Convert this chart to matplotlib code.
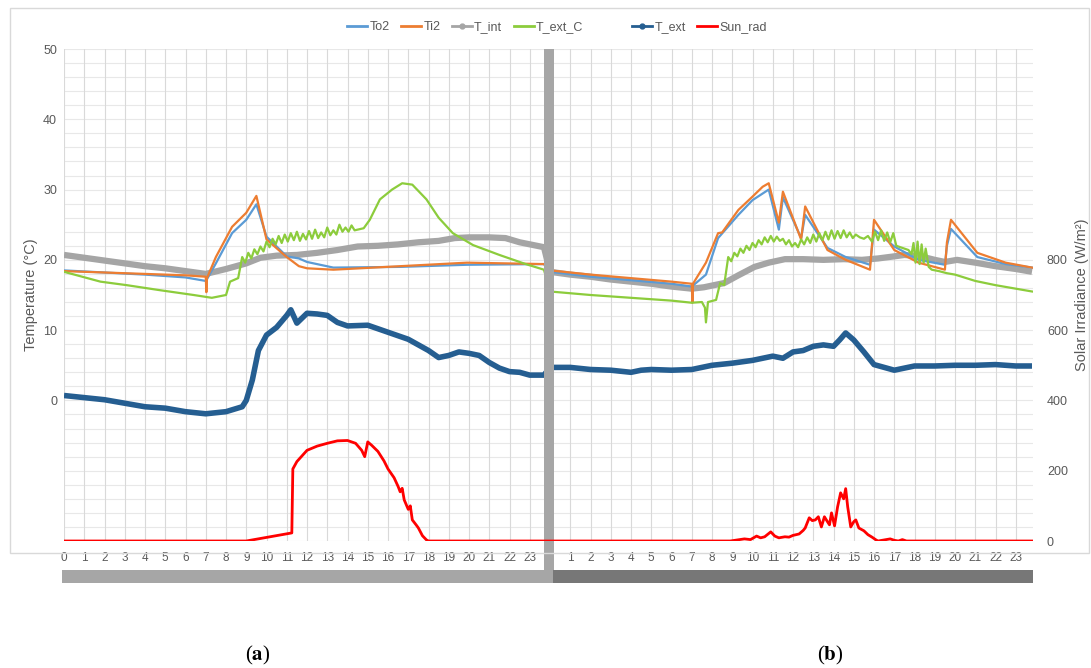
'''Two-day temperature and solar irradiance record, panels (a) and (b)'''
import numpy as np
import matplotlib.pyplot as plt
from matplotlib.lines import Line2D
from matplotlib.patches import Rectangle

plt.rcParams['font.family'] = ['Liberation Sans', 'DejaVu Sans']
plt.rcParams['mathtext.fontset'] = 'stix'

# ---------------- day (a) ----------------
t_int_a_h = [0, 1, 2, 3, 4, 5, 6, 7, 8, 9, 9.7, 10.5, 11.5, 12.5, 13.5, 14.5, 15.5, 16.5,
             17.5, 18.5, 19.3, 20, 21, 21.8, 22.5, 23.7]
t_int_a = [20.7, 20.3, 19.9, 19.5, 19.1, 18.8, 18.4, 18.0, 18.7, 19.5, 20.3, 20.6, 20.7,
           21.0, 21.4, 21.9, 22.0, 22.2, 22.5, 22.7, 23.1, 23.2, 23.2, 23.1, 22.5, 21.8]

to2_a_h = [0, 2, 4, 6, 7.0, 7.05, 7.5, 8.3, 9.0, 9.5, 10.0, 11.0, 11.6, 12.0, 13.3, 16.6,
           19.9, 23.7]
to2_a = [18.5, 18.2, 17.9, 17.5, 17.0, 17.2, 19.5, 23.8, 25.7, 27.9, 23.3, 20.5, 20.2,
         19.7, 18.9, 19.0, 19.3, 19.4]

ti2_a_h = [0, 2, 4, 6, 7.0, 7.03, 7.06, 7.5, 8.3, 9.0, 9.5, 10.0, 11.0, 11.6, 12.0, 13.3,
           16.6, 19.9, 23.7]
ti2_a = [18.4, 18.2, 18.0, 17.8, 17.6, 15.4, 17.4, 20.4, 24.7, 26.7, 29.1, 22.9, 20.4,
         19.1, 18.8, 18.6, 19.1, 19.6, 19.4]

t_ext_c_a_h = [0, 1.8, 3.1, 4.7, 6.4, 7.3, 8.0, 8.2, 8.6, 8.8, 8.95, 9.1, 9.25, 9.4, 9.55,
               9.7, 9.85, 10.0, 10.15, 10.3, 10.45, 10.6, 10.75, 10.9, 11.05, 11.2, 11.35,
               11.5, 11.65, 11.8, 11.95, 12.1, 12.25, 12.4, 12.55, 12.7, 12.85, 13.0, 13.15,
               13.3, 13.45, 13.6, 13.75, 13.9, 14.05, 14.2, 14.35, 14.5, 14.8, 15.1, 15.6,
               16.2, 16.7, 17.2, 17.9, 18.5, 19.2, 20.2, 21.5, 22.8, 23.7]
t_ext_c_a = [18.3, 16.9, 16.4, 15.7, 15.0, 14.6, 15.0, 16.9, 17.4, 20.4, 19.6, 21.0, 20.2,
             21.5, 20.8, 21.9, 21.2, 22.6, 21.8, 23.0, 22.2, 23.4, 22.4, 23.6, 22.6, 23.8,
             22.8, 24.0, 22.7, 23.7, 22.9, 24.1, 23.0, 24.3, 23.1, 23.9, 23.2, 24.6, 23.5,
             24.2, 23.6, 25.0, 24.0, 24.6, 24.0, 24.9, 24.2, 24.3, 24.5, 25.7, 28.6, 30.0,
             30.9, 30.7, 28.6, 26.0, 23.8, 22.1, 20.7, 19.4, 18.6]

t_ext_a_h = [0, 1, 2, 3, 4, 5, 6, 7, 8, 8.8, 9, 9.3, 9.6, 10, 10.5, 11, 11.2, 11.5, 12,
             12.5, 13, 13.5, 14, 15, 16, 17, 18, 18.5, 19, 19.5, 20, 20.5, 21, 21.5, 22,
             22.5, 23, 23.7]
t_ext_a = [0.7, 0.4, 0.1, -0.4, -0.9, -1.1, -1.6, -1.9, -1.6, -0.9, 0.0, 2.9, 7.1, 9.3,
           10.4, 12.1, 12.9, 11.0, 12.4, 12.3, 12.1, 11.1, 10.6, 10.7, 9.7, 8.7, 7.1, 6.1,
           6.4, 6.9, 6.7, 6.4, 5.4, 4.6, 4.1, 4.0, 3.6, 3.6]

sun_a_h = [0, 9.0, 11.25, 11.3, 11.5, 12, 12.5, 13, 13.5, 14, 14.4, 14.7, 14.85, 15.0,
           15.2, 15.5, 15.8, 16.0, 16.3, 16.5, 16.6, 16.7, 16.8, 17.0, 17.1, 17.2, 17.4,
           17.5, 17.7, 17.9, 18.0, 23.9]
sun_a = [0, 0, 23, 205, 226, 258, 270, 278, 285, 286, 278, 258, 240, 282, 272, 255, 228,
         205, 180, 155, 140, 150, 117, 90, 100, 60, 45, 37, 15, 3, 0, 0]

# ---------------- day (b) ----------------
t_int_b_h = [0, 1, 2, 3, 4, 5, 6, 7, 7.6, 8.6, 9.3, 10.1, 10.8, 11.6, 12.5, 13.5, 14.5,
             15.4, 16.2, 17.0, 17.5, 18.3, 19.0, 19.5, 20.1, 21, 22, 23, 23.8]
t_int_b = [18.3, 17.9, 17.6, 17.2, 16.9, 16.6, 16.2, 15.9, 16.1, 16.7, 17.8, 19.0, 19.6,
           20.1, 20.1, 20.0, 20.1, 20.0, 20.2, 20.5, 20.7, 20.5, 20.0, 19.7, 20.0, 19.6,
           19.1, 18.7, 18.3]

to2_b_h = [0, 2, 4, 6, 7.0, 7.7, 8.3, 9.3, 10.0, 10.8, 11.3, 11.5, 12.4, 12.6, 13.7,
           14.6, 15.8, 16.0, 17.0, 18.2, 19.5, 19.6, 19.8, 21.1, 22.5, 23.8]
to2_b = [18.3, 17.6, 17.1, 16.6, 16.2, 17.9, 23.1, 26.4, 28.5, 30.0, 24.3, 28.9, 23.1,
         26.4, 21.7, 20.4, 19.3, 24.3, 21.9, 20.0, 19.3, 22.0, 24.4, 20.4, 19.4, 18.9]

ti2_b_h = [0, 2, 4, 6, 7.0, 7.03, 7.06, 7.7, 8.3, 8.5, 9.3, 10.0, 10.5, 10.8, 11.3, 11.5,
           12.4, 12.6, 13.7, 14.6, 15.8, 16.0, 17.0, 18.2, 19.5, 19.6, 19.8, 21.1, 22.5,
           23.8]
ti2_b = [18.5, 17.9, 17.4, 16.9, 16.6, 13.9, 16.6, 19.6, 23.8, 23.9, 27.1, 29.0, 30.4,
         30.9, 25.3, 29.7, 22.9, 27.6, 21.4, 20.0, 18.6, 25.7, 21.4, 19.6, 18.6, 22.5, 25.7,
         21.0, 19.6, 18.9]

t_ext_c_b_h = [0, 2, 4, 6, 7.0, 7.5, 7.65, 7.7, 7.8, 8.2, 8.4, 8.6, 8.8, 8.95, 9.1, 9.25,
               9.4, 9.55, 9.7, 9.85, 10.0, 10.15, 10.3, 10.45, 10.6, 10.75, 10.9, 11.05,
               11.2, 11.35, 11.5, 11.65, 11.8, 11.95, 12.1, 12.25, 12.4, 12.55, 12.7, 12.85,
               13.0, 13.15, 13.3, 13.45, 13.6, 13.75, 13.9, 14.05, 14.2, 14.35, 14.5, 14.65,
               14.8, 14.95, 15.1, 15.3, 15.5, 15.7, 15.9, 16.05, 16.2, 16.35, 16.5, 16.65,
               16.8, 16.95, 17.1, 17.3, 17.5, 17.7, 17.85, 17.95, 18.05, 18.15, 18.25,
               18.35, 18.45, 18.55, 18.7, 18.85, 19.2, 19.6, 20.0, 21, 22, 23, 23.8]
t_ext_c_b = [15.5, 15.0, 14.6, 14.2, 13.9, 14.0, 13.2, 11.1, 14.0, 14.3, 16.7, 16.4, 20.4,
             19.8, 21.0, 20.5, 21.6, 21.0, 22.0, 21.4, 22.4, 21.8, 22.8, 22.2, 23.2, 22.5,
             23.4, 22.6, 23.3, 22.7, 23.0, 22.2, 22.8, 21.9, 22.4, 21.8, 22.9, 22.2, 23.2,
             22.4, 23.6, 22.6, 23.8, 22.8, 24.0, 22.9, 24.2, 23.0, 24.1, 23.1, 24.2, 23.2,
             23.9, 23.1, 23.6, 23.2, 23.0, 23.4, 22.6, 24.0, 22.8, 24.2, 22.7, 23.9, 22.5,
             23.8, 22.0, 21.8, 21.6, 21.4, 20.8, 22.4, 19.6, 22.6, 19.4, 22.2, 19.6, 21.6,
             19.0, 18.6, 18.4, 18.1, 17.9, 17.0, 16.4, 15.9, 15.5]

t_ext_b_h = [0, 1, 2, 3, 4, 4.5, 5, 6, 7, 8, 9, 10, 10.5, 11, 11.5, 12, 12.5, 13, 13.5,
             14, 14.3, 14.6, 15, 15.5, 16, 17, 18, 19, 20, 21, 22, 23, 23.8]
t_ext_b = [4.7, 4.7, 4.4, 4.3, 4.0, 4.3, 4.4, 4.3, 4.4, 5.0, 5.3, 5.7, 6.0, 6.3, 6.0, 6.9,
           7.1, 7.7, 7.9, 7.7, 8.6, 9.6, 8.6, 6.9, 5.1, 4.3, 4.9, 4.9, 5.0, 5.0, 5.1, 4.9, 4.9]

sun_b_h = [0, 8.9, 9.6, 9.9, 10.2, 10.4, 10.6, 10.9, 11.1, 11.3, 11.6, 11.8, 12.0, 12.3,
           12.5, 12.6, 12.8, 12.95, 13.1, 13.25, 13.4, 13.55, 13.7, 13.8, 13.9, 14.05, 14.2,
           14.35, 14.5, 14.6, 14.7, 14.85, 15.0, 15.1, 15.25, 15.5, 15.7, 15.9, 16.1, 16.2,
           16.6, 16.8, 17.0, 17.2, 17.4, 17.6, 23.8]
sun_b = [0, 0, 6, 4, 14, 9, 12, 26, 14, 9, 12, 11, 16, 20, 30, 37, 66, 58, 60, 69, 40, 69,
         55, 46, 80, 43, 97, 137, 120, 149, 97, 40, 55, 60, 37, 29, 18, 11, 3, 0, 4, 6, 2,
         0, 4, 0, 0]

hour_labels = [str(h) for h in range(24)]


def join(ha, va, hb, vb):
    # day (b) sits right after day (a) on the same hour axis
    return np.r_[ha, np.array(hb) + 24.0], np.r_[va, vb]


W, H = 1091, 668
fig = plt.figure(figsize=(W / 100, H / 100), dpi=100)
ax = fig.add_axes([64 / W, 1 - 541 / H, (1033 - 64) / W, (541 - 49) / H])
ax2 = ax.twinx()

ax.set_xlim(0, 47.85)
ax.set_ylim(-20, 50)
ax2.set_ylim(0, 1400)

# grid
for y in np.arange(-20, 51, 2):
    ax.axhline(y, color='#e8e8e8', lw=0.8, zorder=0)
for x in np.arange(0, 48, 1):
    ax.axvline(x, color='#d9d9d9', lw=0.8, zorder=0)

x, y = join(to2_a_h, to2_a, to2_b_h, to2_b)
ax.plot(x, y, color='#5b9bd5', lw=1.6, zorder=3)
x, y = join(ti2_a_h, ti2_a, ti2_b_h, ti2_b)
ax.plot(x, y, color='#ed7d31', lw=1.6, zorder=3)
x, y = join(t_int_a_h, t_int_a, t_int_b_h, t_int_b)
ax.plot(x, y, color='#a5a5a5', lw=4.5, zorder=2, solid_capstyle='butt')
x, y = join(t_ext_c_a_h, t_ext_c_a, t_ext_c_b_h, t_ext_c_b)
ax.plot(x, y, color='#8ccc3c', lw=1.6, zorder=4)
x, y = join(t_ext_a_h, t_ext_a, t_ext_b_h, t_ext_b)
ax.plot(x, y, color='#255e91', lw=4, zorder=3, solid_capstyle='butt')
x, y = join(sun_a_h, sun_a, sun_b_h, sun_b)
ax2.plot(x, y, color='#ff0000', lw=2, zorder=3)

# day separator
ax.axvspan(23.7, 24.2, ymin=-0.085, ymax=1, color='#a6a6a6', zorder=6, clip_on=False, lw=0)

ticks = np.r_[np.arange(24), np.arange(24) + 24]
ax.set_xticks(ticks)
ax.set_xticklabels(hour_labels + hour_labels)
ax.set_yticks([0, 10, 20, 30, 40, 50])
ax2.set_yticks([0, 200, 400, 600, 800])
ax.tick_params(axis='x', length=0, labelsize=8.5, labelcolor='#595959', pad=8)
ax.tick_params(axis='y', length=0, labelsize=9, labelcolor='#595959', pad=5)
ax2.tick_params(axis='y', length=0, labelsize=9, labelcolor='#595959', pad=10)
for a in (ax, ax2):
    for s in a.spines.values():
        s.set_visible(False)

ax.set_ylabel('Temperature (°C)', fontsize=10.5, color='#595959', labelpad=4)
ax2.set_ylabel('Solar Irradiance (W/m²)', fontsize=10.5, color='#595959', labelpad=5)

# legend, with a blank slot between the two groups
handles = [Line2D([], [], color='#5b9bd5', lw=2),
           Line2D([], [], color='#ed7d31', lw=2),
           Line2D([], [], color='#a5a5a5', lw=2, marker='o', ms=3.5),
           Line2D([], [], color='#8ccc3c', lw=2),
           Line2D([], [], color='none'),
           Line2D([], [], color='#255e91', lw=2, marker='o', ms=3.5),
           Line2D([], [], color='#ff0000', lw=2)]
labels = ['To2', 'Ti2', 'T_int', 'T_ext_C', ' ', 'T_ext', 'Sun_rad']
leg = fig.legend(handles, labels, loc='center', bbox_to_anchor=(557 / W, 1 - 27 / H),
                 ncol=7, frameon=False, fontsize=9, handlelength=1.6, handletextpad=0.2,
                 columnspacing=0.9, labelcolor='#595959')

# chart border and bars below the hour axis
fig.add_artist(Rectangle((10 / W, 1 - 553 / H), 1079 / W, 545 / H, transform=fig.transFigure,
                         fill=False, edgecolor='#d9d9d9', lw=1))
fig.add_artist(Rectangle((62 / W, 1 - 583 / H), (545 - 62) / W, 13 / H,
                         transform=fig.transFigure, color='#a6a6a6', lw=0))
fig.add_artist(Rectangle((553 / W, 1 - 583 / H), (1033 - 553) / W, 13 / H,
                         transform=fig.transFigure, color='#777777', lw=0))

fig.text(258 / W, 1 - 655 / H, r'($\mathbf{a}$)', ha='center', va='center', fontsize=15,
         family='Liberation Serif')
fig.text(830 / W, 1 - 655 / H, r'($\mathbf{b}$)', ha='center', va='center', fontsize=15,
         family='Liberation Serif')

fig.savefig('out.png', dpi=100)
